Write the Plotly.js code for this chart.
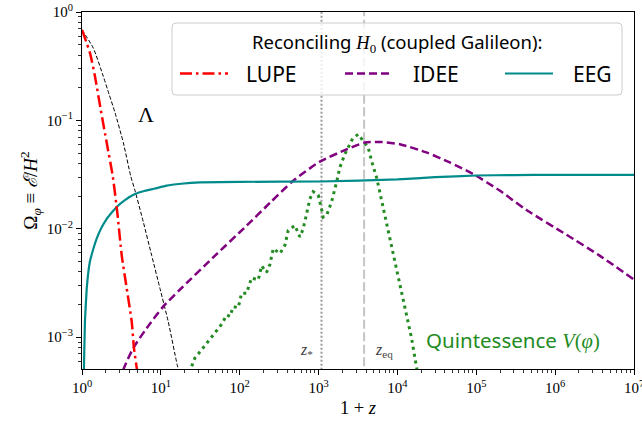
<!DOCTYPE html>
<html>
<head>
<meta charset="utf-8">
<script src="https://cdn.plot.ly/plotly-3.0.1.min.js"></script>
<style>html,body{margin:0;padding:0;background:#fff;}#chart{width:642px;height:424px;}</style>
</head>
<body>
<div id="chart"></div>
<script>
// ---- data ----
const lupeX = [1, 1.263, 1.46, 1.726, 2.056, 2.45, 2.80, 3.19, 3.69, 4.27, 4.56, 4.94, 5.3];
const lupeY = [0.685, 0.418, 0.255, 0.126, 0.0624, 0.0308, 0.01423, 0.00569, 0.00282, 0.00139, 0.000794, 0.00052, 0.00036];

const lamX = [1, 1.39, 1.862, 2.2, 2.62, 3.34, 4.14, 4.70, 5.98, 7.64, 9.74, 12.4, 16.1, 18.5];
const lamY = [0.685, 0.465, 0.255, 0.175, 0.118, 0.0624, 0.0308, 0.0225, 0.0116, 0.00569, 0.00282, 0.00139, 0.000557, 0.00037];

const eegX = [1.02, 1.06, 1.09, 1.148, 1.26, 1.4, 1.535, 1.75, 2.06, 2.4, 2.75, 3.5, 4.70, 6.3, 8.42, 11.8, 18, 31.3, 100, 1040, 10000, 30000, 100000, 300000, 1000000, 10000000];
const eegY = [0.0002, 0.00055, 0.0014, 0.00282, 0.00498, 0.0066, 0.0081, 0.0101, 0.01236, 0.0142, 0.0159, 0.0184, 0.0209, 0.0224, 0.0235, 0.0250, 0.0260, 0.0268, 0.0271, 0.0273, 0.0285, 0.0299, 0.0310, 0.0313, 0.0314, 0.0314];

const ideeX = [3.0, 3.41, 4.47, 6.61, 10.7, 17.5, 46.1, 122, 242, 476, 1038, 2153, 3860, 6340, 10720, 23380, 46100, 91000, 198000, 432000, 1390000, 3670000, 10000000];
const ideeY = [0.00039, 0.00052, 0.000793, 0.00121, 0.00191, 0.00275, 0.00544, 0.01066, 0.01733, 0.0277, 0.0416, 0.0531, 0.0624, 0.0632, 0.0602, 0.0506, 0.0409, 0.0320, 0.0225, 0.0149, 0.00881, 0.00565, 0.0034];

const quinX = [24.6, 27.0, 32.9, 44.0, 51.0, 59.0, 68.3, 75.2, 82.8, 95.8, 105.7, 122, 141.5, 171.5, 189.5, 219, 241.5, 266, 323.6, 374, 412, 501, 580, 638, 705, 776, 855, 989, 1091, 1143, 1262, 1462, 1690, 1862, 2155, 2443, 2698, 3177, 3864, 4256, 4699, 5436, 5984, 6925, 8414, 10200, 12410, 15100, 17460, 18500];
const quinY = [0.000538, 0.000641, 0.000765, 0.000994, 0.001127, 0.001315, 0.0016, 0.00155, 0.00191, 0.00187, 0.00254, 0.00254, 0.00353, 0.00336, 0.00455, 0.00395, 0.00468, 0.00656, 0.0059, 0.00703, 0.00964, 0.01072, 0.00839, 0.0100, 0.01374, 0.01884, 0.0220, 0.0205, 0.01525, 0.0128, 0.01324, 0.0177, 0.0268, 0.0368, 0.0488, 0.0581, 0.0679, 0.0744, 0.0624, 0.0562, 0.0423, 0.0298, 0.0217, 0.01324, 0.00703, 0.00361, 0.00191, 0.00098, 0.000527, 0.00042];

const zStar = 1090;
const zEq = 3780;

const xTickVals = [1, 10, 100, 1000, 10000, 100000, 1000000, 10000000];
const xTickText = ['10<sup>0</sup>', '10<sup>1</sup>', '10<sup>2</sup>', '10<sup>3</sup>', '10<sup>4</sup>', '10<sup>5</sup>', '10<sup>6</sup>', '10<sup>7</sup>'];
const yTickVals = [0.001, 0.01, 0.1, 1];
const yTickText = ['10<sup>−3</sup>', '10<sup>−2</sup>', '10<sup>−1</sup>', '10<sup>0</sup>'];

// ---- layout helpers ----
const ML = 82, MT = 12, PW = 552, PH = 357;
const px = x => (x - ML) / PW;
const py = y => (MT + PH - y) / PH;
const yMin = 5.08e-4, yMax = 1;

function minorTicks(lo, hi) {
  const v = [];
  for (let e = lo; e < hi; e++) for (let d = 2; d <= 9; d++) v.push(d * Math.pow(10, e));
  return v;
}

const SERIF = 'Liberation Serif, DejaVu Serif, serif';
const SANS = 'Noto Sans, DejaVu Sans, sans-serif';

const traces = [
  {x: [zStar, zStar], y: [1e-5, 10], mode: 'lines', line: {color: '#9a9a9a', width: 2, dash: '2px,2px'}, hoverinfo: 'skip'},
  {x: [zEq, zEq], y: [1e-5, 10], mode: 'lines', line: {color: '#c4c4c4', width: 2, dash: '9px,3.5px'}, hoverinfo: 'skip'},
  {x: lamX, y: lamY, mode: 'lines', line: {color: 'black', width: 1, dash: '4px,2px', shape: 'spline', smoothing: 0.6}, name: 'Λ'},
  {x: quinX, y: quinY, mode: 'lines', line: {color: '#228B22', width: 3, dash: '3px,4px'}, name: 'Quintessence'},
  {x: ideeX, y: ideeY, mode: 'lines', line: {color: '#800080', width: 2.5, dash: '8px,4px', shape: 'spline', smoothing: 0.6}, name: 'IDEE'},
  {x: eegX, y: eegY, mode: 'lines', line: {color: '#008B8B', width: 2.2, shape: 'spline', smoothing: 0.3}, name: 'EEG'},
  {x: lupeX, y: lupeY, mode: 'lines', line: {color: '#FF0000', width: 2.5, dash: '12px,4px,2.5px,4px', shape: 'spline', smoothing: 0.6}, name: 'LUPE'}
];

// legend box (rounded)
const bx0 = 172, bx1 = 622, by0 = 23, by1 = 95, r = 4;
const rx = r / PW, ry = r / PH;
const X0 = px(bx0), X1 = px(bx1), Y0 = py(by1), Y1 = py(by0);
const boxPath = `M ${X0 + rx},${Y0} L ${X1 - rx},${Y0} Q ${X1},${Y0} ${X1},${Y0 + ry} L ${X1},${Y1 - ry} Q ${X1},${Y1} ${X1 - rx},${Y1} L ${X0 + rx},${Y1} Q ${X0},${Y1} ${X0},${Y1 - ry} L ${X0},${Y0 + ry} Q ${X0},${Y0} ${X0 + rx},${Y0} Z`;

const rowY = 73.5;
const shapes = [
  {type: 'path', xref: 'paper', yref: 'paper', path: boxPath, fillcolor: 'rgba(255,255,255,0.8)', line: {color: '#cccccc', width: 1}, layer: 'above'},
  {type: 'line', xref: 'paper', yref: 'paper', x0: px(180), x1: px(228), y0: py(rowY), y1: py(rowY), line: {color: '#FF0000', width: 2.5, dash: '12px,4px,2.5px,4px'}, layer: 'above'},
  {type: 'line', xref: 'paper', yref: 'paper', x0: px(345), x1: px(393), y0: py(rowY), y1: py(rowY), line: {color: '#800080', width: 2.5, dash: '8px,4px'}, layer: 'above'},
  {type: 'line', xref: 'paper', yref: 'paper', x0: px(505), x1: px(553), y0: py(rowY), y1: py(rowY), line: {color: '#008B8B', width: 2.2}, layer: 'above'}
];

const ann = (x, y, text, size, color, family, xanchor) => ({
  xref: 'paper', yref: 'paper', x: px(x), y: py(y), text: text, showarrow: false,
  xanchor: xanchor || 'center', yanchor: 'middle', font: {size: size, color: color || 'black', family: family || SANS}
});

const annotations = [
  ann(397, 42, 'Reconciling <span style="font-family:Liberation Serif"><i>H</i><sub>0</sub></span> (coupled Galileon):', 18.5, 'black', SANS),
  ann(244, 74, 'LUPE', 21, 'black', SANS, 'left'),
  ann(411, 74, 'IDEE', 21, 'black', SANS, 'left'),
  ann(571, 74, 'EEG', 21, 'black', SANS, 'left'),
  ann(145.5, 114, 'Λ', 22, 'black', SERIF),
  ann(306, 350, '<i>z</i><sub>*</sub>', 16, '#444444', SERIF),
  ann(384, 350, '<i>z</i><sub>eq</sub>', 16, '#444444', SERIF),
  ann(424, 340, 'Quintessence <span style="font-family:Liberation Serif"><i>V</i>(<i>φ</i>)</span>', 20.5, '#228B22', SANS, 'left')
];

const axisCommon = {
  type: 'log', showgrid: false, zeroline: false,
  showline: true, linecolor: 'black', linewidth: 1, mirror: true,
  ticks: 'outside', ticklen: 5, tickwidth: 1, tickcolor: 'black',
  tickfont: {family: SERIF, size: 15, color: 'black'},
  tickmode: 'array', ticklabeloverflow: 'allow'
};

const layout = {
  width: 642, height: 424,
  margin: {l: ML, r: 642 - ML - PW, t: MT, b: 424 - MT - PH, pad: 0},
  paper_bgcolor: 'white', plot_bgcolor: 'white',
  showlegend: false,
  xaxis: Object.assign({}, axisCommon, {
    range: [0, 7], tickvals: xTickVals, ticktext: xTickText,
    minor: {ticks: 'outside', ticklen: 3, tickwidth: 0.8, tickcolor: 'black', tickmode: 'array', tickvals: minorTicks(0, 7), showgrid: false},
    title: {text: '1 + <i>z</i>', font: {family: SERIF, size: 18.5, color: 'black'}, standoff: 6}
  }),
  yaxis: Object.assign({}, axisCommon, {
    range: [Math.log10(yMin), Math.log10(yMax)], tickvals: yTickVals, ticktext: yTickText,
    minor: {ticks: 'outside', ticklen: 3, tickwidth: 0.8, tickcolor: 'black', tickmode: 'array', tickvals: minorTicks(-4, 0), showgrid: false},
    title: {text: 'Ω<sub><i>φ</i></sub> ≡ <i>ℰ</i>/<i>H</i><sup>2</sup>', font: {family: SERIF, size: 19, color: 'black'}, standoff: 4}
  }),
  shapes: shapes,
  annotations: annotations
};

Plotly.newPlot('chart', traces, layout, {staticPlot: true, displayModeBar: false});
</script>
</body>
</html>
